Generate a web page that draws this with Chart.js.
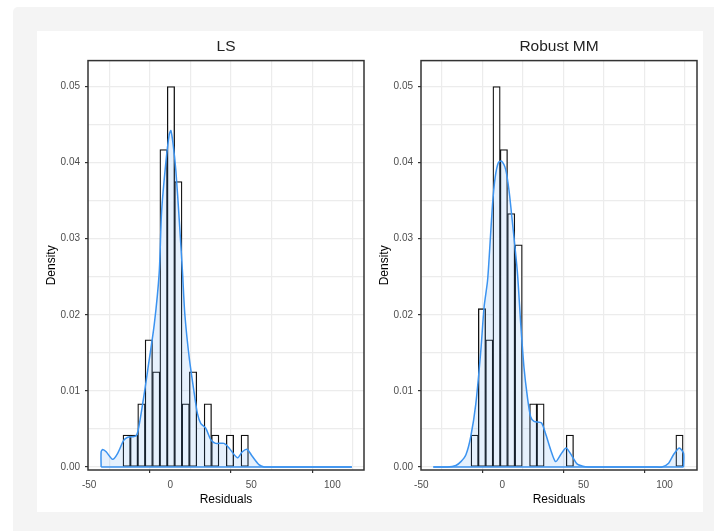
<!DOCTYPE html>
<html>
<head>
<meta charset="utf-8">
<script src="https://cdn.jsdelivr.net/npm/chart.js@4"></script>
<style>
html, body { margin: 0; padding: 0; background: #fff; }
body { width: 714px; height: 531px; overflow: hidden; position: relative; }
#frame { position: absolute; left: 13px; top: 7px; width: 701px; height: 524px; background: #f4f4f4; border-radius: 5px 0 0 0; }
#card { position: absolute; left: 37px; top: 31px; width: 666px; height: 481px; background: #fff; }
.plot { position: absolute; top: 30px; width: 333px; height: 482px; }
#ls { left: 37px; }
#mm { left: 370px; }
</style>
</head>
<body>
<div id="frame"></div>
<div id="card"></div>
<div class="plot" id="ls"><canvas id="lsChart"></canvas></div>
<div class="plot" id="mm"><canvas id="mmChart"></canvas></div>
<script>
var lsBarCenters = [-26.85, -22.3, -17.75, -13.2, -8.65, -4.1, 0.45, 5, 9.55, 14.1, 18.65, 23.2, 27.75, 32.3, 36.85, 41.4, 45.95];
var lsBarHeights = [0.0042, 0.0042, 0.0083, 0.0167, 0.0125, 0.0417, 0.05, 0.0375, 0.0083, 0.0125, 0, 0.0083, 0.0042, 0, 0.0042, 0, 0.0042];

var lsDensityX = [-42.6, -42.6, -41.6, -39.5, -35.5, -32.4, -28.7, -26.2, -21, -19, -15.4, -13.9, -9.8, -6.8, -5.3, -2.7, -0.6, 0.4, 1.8, 3.5, 5.5, 7.6, 9, 11.7, 14.8, 16.8, 18.9, 21.9, 25, 28, 33.2, 36.3, 41.4, 44.5, 47.5, 50.6, 54.7, 58, 62, 108, 112];
var lsDensityY = [0, 0.0020, 0.0023, 0.0020, 0.0010, 0.0018, 0.0035, 0.0039, 0.0041, 0.0057, 0.0105, 0.0127, 0.0188, 0.0255, 0.0336, 0.0400, 0.0437, 0.0442, 0.0424, 0.0389, 0.0327, 0.0255, 0.0201, 0.0144, 0.0097, 0.0070, 0.0057, 0.0051, 0.0036, 0.0031, 0.0031, 0.0025, 0.0012, 0.0020, 0.0023, 0.0014, 0.0003, 0, 0, 0, 0];

var mmBarCenters = [-17.1, -12.6, -8.1, -3.6, 0.9, 5.4, 10, 14.5, 19, 23.5, 28, 32.5, 37, 41.6, 46.1, 50.6, 55.1, 59.6, 64.1, 68.6, 73.1, 77.6, 82.2, 86.7, 91.2, 95.7, 100.2, 104.7, 109.2];
var mmBarHeights = [0.0042, 0.0208, 0.0167, 0.05, 0.0417, 0.0333, 0.0292, 0, 0.0083, 0.0083, 0, 0, 0, 0.0042, 0, 0, 0, 0, 0, 0, 0, 0, 0, 0, 0, 0, 0, 0, 0.0042];

var mmDensityX = [-42.6, -34, -28.7, -25.6, -22.5, -19.5, -16.4, -13.3, -11.3, -9.2, -8.2, -6.1, -4.5, -2.5, -0.6, 2, 4.1, 6.1, 9.2, 11.3, 13.3, 15.4, 17.4, 19.5, 24, 26.6, 29.7, 32.8, 35.9, 39.3, 43, 46, 49.6, 53, 57, 94, 98.4, 102.5, 105.5, 109, 111.7, 111.7];
var mmDensityY = [0, 0, 0.0002, 0.0007, 0.0016, 0.0040, 0.0083, 0.0153, 0.0210, 0.0244, 0.0274, 0.0345, 0.0380, 0.0400, 0.0402, 0.0391, 0.0363, 0.0323, 0.0257, 0.0188, 0.0131, 0.0092, 0.0066, 0.0060, 0.0058, 0.0044, 0.0023, 0.0007, 0.0016, 0.0025, 0.0014, 0.0004, 0.0001, 0, 0, 0, 0, 0.0005, 0.0016, 0.0025, 0.0018, 0];

var xMajorTicks = [-50, 0, 50, 100];

// box round the panel, chart.js only has the axis sides
var panelBorder = {
    id: 'panelBorder',
    afterDraw: function(chart) {
        var area = chart.chartArea;
        var c = chart.ctx;

        c.save();
        c.strokeStyle = '#333333';
        c.lineWidth = 1.5;
        c.strokeRect(area.left, area.top, area.width, area.height);
        c.restore();
    }
};

function toPoints(xs, ys)
{
    var points = [];

    for (var i = 0; i < xs.length; i++) {
        points.push({ x: xs[i], y: ys[i] });
    }

    return points;
}

function isMajorY(value)
{
    return Math.abs(value * 100 - Math.round(value * 100)) < 0.001;
}

function printHistogram(id, title, xMin, xMax, barX, barY, densityX, densityY)
{
    var ctx = document.getElementById(id);

    new Chart(ctx, {
        plugins: [panelBorder],
        data: {
            datasets: [{
                type: 'line',
                order: 0,
                data: toPoints([densityX[0], densityX[densityX.length - 1]], [0, 0]),
                borderColor: '#3b93f0',
                borderWidth: 1.5,
                fill: false,
                pointRadius: 0
            }, {
                type: 'line',
                order: 1,
                data: toPoints(densityX, densityY),
                borderColor: '#3b93f0',
                borderWidth: 1.5,
                backgroundColor: 'rgba(59,147,240,0.13)',
                fill: 'origin',
                pointRadius: 0,
                tension: 0.25
            }, {
                type: 'bar',
                order: 2,
                data: toPoints(barX, barY),
                backgroundColor: '#ffffff',
                borderColor: '#111111',
                borderWidth: 1.3,
                borderSkipped: false,
                barPercentage: 1,
                categoryPercentage: 1
            }]
        },
        options: {
            responsive: false,
            animation: false,
            layout: { padding: { left: 0, right: 6, top: 0, bottom: 0 } },
            plugins: {
                legend: { display: false },
                tooltip: { enabled: false },
                title: {
                    display: true,
                    text: title,
                    fullSize: false,
                    color: '#222222',
                    font: { family: 'Liberation Sans', size: 15.5, weight: 'normal' },
                    padding: { top: 7, bottom: 5 }
                }
            },
            scales: {
                x: {
                    type: 'linear',
                    min: xMin,
                    max: xMax,
                    offset: false,
                    border: { display: false },
                    grid: {
                        color: '#ececec',
                        lineWidth: 1.2,
                        tickLength: 3,
                        tickColor: function(c) {
                            return c.tick && xMajorTicks.indexOf(c.tick.value) >= 0 ? '#333333' : 'rgba(0,0,0,0)';
                        }
                    },
                    ticks: {
                        stepSize: 25,
                        includeBounds: false,
                        autoSkip: false,
                        maxRotation: 0,
                        padding: 6,
                        color: '#4d4d4d',
                        font: { family: 'Liberation Sans', size: 10 },
                        callback: function(value) {
                            return xMajorTicks.indexOf(value) >= 0 ? String(value) : '';
                        }
                    },
                    title: {
                        display: true,
                        text: 'Residuals',
                        color: '#000000',
                        font: { family: 'Liberation Sans', size: 12 },
                        padding: { top: 3, bottom: 5 }
                    },
                    afterFit: function(scale) { scale.height = 42; }
                },
                y: {
                    min: -0.0004,
                    max: 0.0534,
                    border: { display: false },
                    grid: {
                        color: '#ececec',
                        lineWidth: 1.2,
                        tickLength: 3,
                        tickColor: function(c) {
                            return c.tick && isMajorY(c.tick.value) ? '#333333' : 'rgba(0,0,0,0)';
                        }
                    },
                    ticks: {
                        stepSize: 0.005,
                        includeBounds: false,
                        autoSkip: false,
                        padding: 5,
                        color: '#4d4d4d',
                        font: { family: 'Liberation Sans', size: 10 },
                        callback: function(value) {
                            return isMajorY(value) ? value.toFixed(2) : '';
                        }
                    },
                    title: {
                        display: true,
                        text: 'Density',
                        color: '#000000',
                        font: { family: 'Liberation Sans', size: 12 },
                        padding: { top: 7, bottom: 0 }
                    },
                    afterFit: function(scale) { scale.width = 51; }
                }
            }
        }
    });
}

document.getElementById('lsChart').width = 333;
document.getElementById('lsChart').height = 482;
document.getElementById('mmChart').width = 333;
document.getElementById('mmChart').height = 482;

printHistogram('lsChart', 'LS', -50.7, 119.5, lsBarCenters, lsBarHeights, lsDensityX, lsDensityY);
printHistogram('mmChart', 'Robust MM', -50.2, 120, mmBarCenters, mmBarHeights, mmDensityX, mmDensityY);
</script>
</body>
</html>
